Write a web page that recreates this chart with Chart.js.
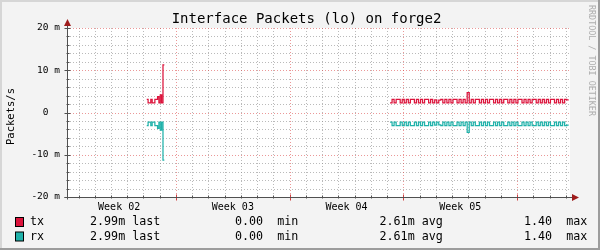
<!DOCTYPE html>
<html><head><meta charset="utf-8">
<script src="https://cdn.jsdelivr.net/npm/chart.js@4"></script>
<style>html,body{margin:0;padding:0;background:#f3f3f3}canvas{display:block}</style>
</head><body>
<canvas id="c" width="600" height="250"></canvas>
<script>
// ---- data (values in milli-packets/s) ----
const title = 'Interface Packets (lo) on forge2';
const yTitle = 'Packets/s';
const watermark = 'RRDTOOL / TOBI OETIKER';
const xMin = -6.71, xMax = 24.26;            // days, 0 = start of Week 03
const weekLabels = ['Week 02', 'Week 03', 'Week 04', 'Week 05'];
const weekLabelPos = [-3.5, 3.5, 10.5, 17.5];
const weekLines = [0, 7, 14, 21];
const dayLines = [-6,-5,-4,-3,-2,-1,1,2,3,4,5,6,8,9,10,11,12,13,15,16,17,18,19,20,22,23,24];
const yMajor = [-20, -10, 0, 10, 20];
const yMajorLabels = ['-20 m', '-10 m', '0  ', '10 m', '20 m'];
const yMinor = [-18,-16,-14,-12,-8,-6,-4,-2,2,4,6,8,12,14,16,18];

const seg1Start = -1.80, seg1Step = 1/12;
const seg2Start = 13.18, seg2Step = 1/8;
const txSeg1 = [3.1,2.26,2.26,3.1,2.26,2.26,3.1,3.1,3.75,2.26,4.15,2.26,11.3];
const txSeg2 = [2.26,3.1,2.26,3.1,3.1,2.26,3.1,2.26,3.1,2.26,
  3.1,3.1,2.26,3.1,2.26,3.1,2.26,3.1,3.1,2.26,
  3.1,2.26,3.0,2.26,2.9,3.1,2.26,3.1,2.26,3.1,
  2.26,3.1,3.1,2.26,3.1,2.26,3.1,2.26,4.7,2.26,
  3.1,2.26,3.1,3.1,2.26,3.1,2.26,3.1,2.26,3.1,
  3.1,2.26,3.1,2.26,3.1,2.26,3.1,3.1,2.26,3.1,
  2.26,3.1,2.26,3.1,3.1,2.26,3.1,2.26,3.1,2.26,
  3.1,3.1,2.26,3.1,2.26,3.1,2.26,3.1,2.26,3.1,
  3.1,2.26,3.1,2.26,3.1,2.26,3.1,2.99];
const rxSeg1 = [3.1,2.26,2.26,3.1,2.26,2.26,3.1,3.1,3.75,2.26,4.15,2.26,11.3];
const rxSeg2 = [2.26,3.1,2.26,3.1,3.1,2.26,3.1,2.26,3.1,2.26,
  3.1,3.1,2.26,3.1,2.26,3.1,2.26,3.1,3.1,2.26,
  3.1,2.26,3.0,2.26,2.9,3.1,2.26,3.1,2.26,3.1,
  2.26,3.1,3.1,2.26,3.1,2.26,3.1,2.26,4.7,2.26,
  3.1,2.26,3.1,3.1,2.26,3.1,2.26,3.1,2.26,3.1,
  3.1,2.26,3.1,2.26,3.1,2.26,3.1,3.1,2.26,3.1,
  2.26,3.1,2.26,3.1,3.1,2.26,3.1,2.26,3.1,2.26,
  3.1,3.1,2.26,3.1,2.26,3.1,2.26,3.1,2.26,3.1,
  3.1,2.26,3.1,2.26,3.1,2.26,3.1,2.99];

const seriesNames = ['tx', 'rx'];
const seriesColors = ['#dc143c', '#20b2aa'];
const statLabels = ['last', 'min', 'avg', 'max'];
const txStats = ['2.99m', '0.00 ', '2.61m', '1.40 '];
const rxStats = ['2.99m', '0.00 ', '2.61m', '1.40 '];

// ---- build points ----
function build(segs, sign) {
  const pts = [];
  segs.forEach(([start, step, vals], k) => {
    if (k > 0) pts.push({x: start - step, y: null});
    vals.forEach((v, i) => pts.push({x: start + i * step, y: sign * v}));
    pts.push({x: start + vals.length * step, y: sign * vals[vals.length - 1]});
  });
  return pts;
}
const txPts = build([[seg1Start, seg1Step, txSeg1], [seg2Start, seg2Step, txSeg2]], 1);
const rxPts = build([[seg1Start, seg1Step, rxSeg1], [seg2Start, seg2Step, rxSeg2]], -1);

const MONO = '"DejaVu Sans Mono", "Liberation Mono", monospace';

const rrdPlugin = {
  id: 'rrd',
  beforeDraw(chart) {
    const ctx = chart.ctx, W = chart.width, H = chart.height, a = chart.chartArea;
    ctx.save();
    ctx.fillStyle = '#f3f3f3'; ctx.fillRect(0, 0, W, H);
    ctx.fillStyle = '#d6d6d6'; ctx.fillRect(0, 0, W, 2); ctx.fillRect(0, 0, 2, H);
    ctx.fillStyle = '#9c9c9c'; ctx.fillRect(0, H - 2, W, 2); ctx.fillRect(W - 2, 0, 2, H);
    ctx.fillStyle = '#ffffff'; ctx.fillRect(a.left, a.top, a.right - a.left, a.bottom - a.top);
    ctx.restore();
  },
  beforeDatasetsDraw(chart) {
    const ctx = chart.ctx, a = chart.chartArea, xs = chart.scales.x, ys = chart.scales.y;
    ctx.save();
    ctx.lineWidth = 1;
    ctx.setLineDash([1, 2]);
    const hline = (v, col) => { const y = Math.round(ys.getPixelForValue(v)) + 0.5;
      ctx.strokeStyle = col; ctx.beginPath(); ctx.moveTo(a.left, y); ctx.lineTo(a.right, y); ctx.stroke(); };
    const vline = (v, col) => { const x = Math.round(xs.getPixelForValue(v)) + 0.5;
      ctx.strokeStyle = col; ctx.beginPath(); ctx.moveTo(x, a.top); ctx.lineTo(x, a.bottom); ctx.stroke(); };
    const minorCol = 'rgba(140,140,140,0.6)', majorCol = 'rgba(215,50,50,0.5)';
    yMinor.forEach(v => hline(v, minorCol));
    dayLines.forEach(v => vline(v, minorCol));
    yMajor.forEach(v => hline(v, majorCol));
    weekLines.forEach(v => vline(v, majorCol));
    ctx.restore();
  },
  afterDatasetsDraw(chart) {
    const ctx = chart.ctx, a = chart.chartArea, xs = chart.scales.x, ys = chart.scales.y;
    ctx.save();
    ctx.setLineDash([]);
    ctx.lineWidth = 1;
    const axCol = '#505050';
    const ax = Math.round(a.left) + 0.5, ay = Math.round(a.bottom) + 0.5;
    // small ticks
    ctx.strokeStyle = axCol;
    yMajor.forEach(v => { const y = Math.round(ys.getPixelForValue(v)) + 0.5;
      ctx.beginPath(); ctx.moveTo(ax - 3, y); ctx.lineTo(ax + 3, y); ctx.stroke(); });
    yMinor.forEach(v => { const y = Math.round(ys.getPixelForValue(v)) + 0.5;
      ctx.beginPath(); ctx.moveTo(ax - 1, y); ctx.lineTo(ax + 2, y); ctx.stroke(); });
    dayLines.forEach(v => { const x = Math.round(xs.getPixelForValue(v)) + 0.5;
      ctx.beginPath(); ctx.moveTo(x, ay - 2); ctx.lineTo(x, ay + 1); ctx.stroke(); });
    ctx.strokeStyle = '#d04040';
    weekLines.forEach(v => { const x = Math.round(xs.getPixelForValue(v)) + 0.5;
      ctx.beginPath(); ctx.moveTo(x, ay - 3); ctx.lineTo(x, ay + 3); ctx.stroke(); });
    // axes
    ctx.strokeStyle = axCol;
    ctx.beginPath(); ctx.moveTo(ax, ay + 2); ctx.lineTo(ax, a.top - 5); ctx.stroke();
    ctx.beginPath(); ctx.moveTo(ax - 3, ay); ctx.lineTo(a.right + 5, ay); ctx.stroke();
    // arrows
    ctx.fillStyle = '#9e1b1b';
    ctx.beginPath(); ctx.moveTo(ax - 3.5, a.top - 2); ctx.lineTo(ax + 3.5, a.top - 2); ctx.lineTo(ax, a.top - 9); ctx.closePath(); ctx.fill();
    ctx.beginPath(); ctx.moveTo(a.right + 2, ay - 3.5); ctx.lineTo(a.right + 2, ay + 3.5); ctx.lineTo(a.right + 9, ay); ctx.closePath(); ctx.fill();
    ctx.restore();
  },
  afterDraw(chart) {
    const ctx = chart.ctx;
    ctx.save();
    ctx.fillStyle = '#000';
    ctx.textBaseline = 'middle';
    // title
    ctx.font = '14px ' + MONO; ctx.textAlign = 'center';
    ctx.fillText(title, 306.5, 19);
    // y title
    ctx.save(); ctx.translate(11.5, 116.5); ctx.rotate(-Math.PI / 2);
    ctx.font = '10.5px ' + MONO; ctx.fillText(yTitle, 0, 0); ctx.restore();
    // watermark
    ctx.save(); ctx.translate(591, 5); ctx.rotate(Math.PI / 2);
    ctx.font = '8.4px ' + MONO; ctx.textAlign = 'left'; ctx.fillStyle = '#adadad';
    ctx.fillText(watermark, 0, 0); ctx.restore();
    // legend
    const rows = [[txStats, 222], [rxStats, 236.5]];
    const statX = [90, 235, 379.5, 524];
    ctx.font = '11.7px ' + MONO; ctx.textAlign = 'left';
    rows.forEach(([stats, y], r) => {
      ctx.fillStyle = seriesColors[r];
      ctx.fillRect(15.5, y - 4.5, 8, 9);
      ctx.strokeStyle = '#000'; ctx.lineWidth = 1;
      ctx.strokeRect(15.5, y - 4.5, 8, 9);
      ctx.fillStyle = '#000';
      ctx.fillText(seriesNames[r], 30, y);
      stats.forEach((s, i) => ctx.fillText(s + ' ' + statLabels[i], statX[i], y));
    });
    ctx.restore();
  }
};

new Chart(document.getElementById('c'), {
  type: 'line',
  data: {
    datasets: [
      {label: 'tx', data: txPts, borderColor: seriesColors[0], borderWidth: 1.25, pointRadius: 0, stepped: true, spanGaps: false, fill: false},
      {label: 'rx', data: rxPts, borderColor: seriesColors[1], borderWidth: 1.25, pointRadius: 0, stepped: true, spanGaps: false, fill: false}
    ]
  },
  options: {
    responsive: false, animation: false, devicePixelRatio: 1,
    layout: {padding: {left: 0, right: 30, top: 28, bottom: 33}},
    plugins: {legend: {display: false}, tooltip: {enabled: false}},
    scales: {
      x: {
        type: 'linear', min: xMin, max: xMax,
        grid: {display: false, drawTicks: false}, border: {display: false},
        afterBuildTicks: s => { s.ticks = weekLabelPos.map(v => ({value: v})); },
        afterFit: s => { s.height = 20; },
        ticks: {autoSkip: false, maxRotation: 0, padding: 4, color: '#000',
          font: {family: MONO, size: 10},
          callback: (v) => { const i = weekLabelPos.indexOf(v); return i >= 0 ? weekLabels[i] : ''; }}
      },
      y: {
        type: 'linear', min: -20, max: 20,
        grid: {display: false, drawTicks: false}, border: {display: false},
        afterBuildTicks: s => { s.ticks = yMajor.map(v => ({value: v})); },
        afterFit: s => { s.width = 67; },
        ticks: {padding: 7, color: '#000', font: {family: MONO, size: 9.5},
          callback: (v) => { const i = yMajor.indexOf(v); return i >= 0 ? yMajorLabels[i] : ''; }}
      }
    }
  },
  plugins: [rrdPlugin]
});
</script>
</body></html>
